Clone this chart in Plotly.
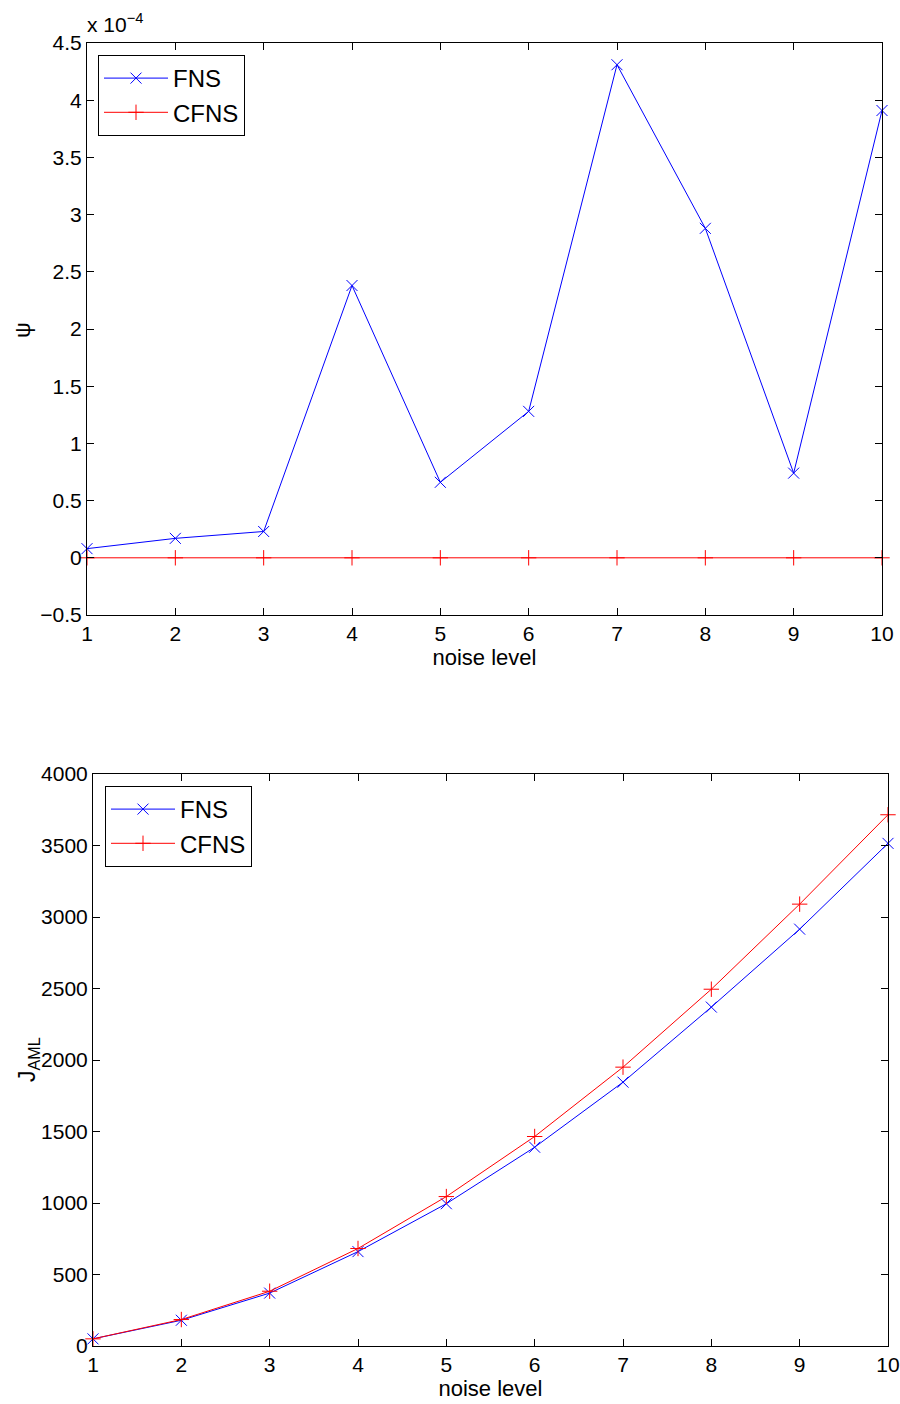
import plotly.graph_objects as go

noise = [1, 2, 3, 4, 5, 6, 7, 8, 9, 10]
# psi values in units of 1e-4
psi_fns = [0.08, 0.17, 0.23, 2.38, 0.66, 1.28, 4.31, 2.88, 0.74, 3.91]
psi_cfns = [0.0, 0.0, 0.0, 0.0, 0.0, 0.0, 0.0, 0.0, 0.0, 0.0]
jaml_fns = [50, 180, 370, 660, 995, 1390, 1845, 2370, 2915, 3515]
jaml_cfns = [50, 185, 383, 682, 1045, 1465, 1950, 2495, 3090, 3715]

FONT = "Liberation Sans, Arial, Helvetica, sans-serif"
BLUE = "#0000ff"
RED = "#ff0000"

fig = go.Figure()

def add(x, y, name, color, symbol, xa, ya, legend):
    fig.add_trace(go.Scatter(
        x=x, y=y, name=name, mode="lines+markers",
        line=dict(color=color, width=1),
        marker=dict(symbol=symbol, size=11, color=color, line=dict(color=color, width=1)),
        xaxis=xa, yaxis=ya, legend=legend, cliponaxis=False))

add(noise, psi_fns, "FNS", BLUE, "x-thin", "x", "y", "legend")
add(noise, psi_cfns, "CFNS", RED, "cross-thin", "x", "y", "legend")
add(noise, jaml_fns, "FNS", BLUE, "x-thin", "x2", "y2", "legend2")
add(noise, jaml_cfns, "CFNS", RED, "cross-thin", "x2", "y2", "legend2")

axis_common = dict(
    showgrid=False, zeroline=False, showline=True, linecolor="black", linewidth=1,
    mirror="ticks", ticks="inside", ticklen=7, tickcolor="black", tickwidth=1,
    automargin=False,
    tickfont=dict(family=FONT, size=21, color="black"),
)

H = 1404.0
leg_common = dict(xanchor="left", yanchor="top",
                  bordercolor="black", borderwidth=1, bgcolor="white",
                  font=dict(family=FONT, size=24, color="black"),
                  tracegroupgap=0, itemwidth=64)
fig.update_layout(
    width=900, height=1404,
    margin=dict(l=0, r=0, t=0, b=0),
    paper_bgcolor="white", plot_bgcolor="white",
    font=dict(family=FONT, color="black"),
    xaxis=dict(domain=[87/900, 882/900], range=[1, 10], dtick=1, anchor="y",
               title=dict(text="noise level", font=dict(size=22), standoff=4), **axis_common),
    yaxis=dict(domain=[(H-615)/H, (H-43)/H], range=[-0.5, 4.5], dtick=0.5, anchor="x",
               **axis_common),
    xaxis2=dict(domain=[93/900, 888/900], range=[1, 10], dtick=1, anchor="y2",
                title=dict(text="noise level", font=dict(size=22), standoff=2), **axis_common),
    yaxis2=dict(domain=[(H-1346)/H, (H-774)/H], range=[0, 4000], dtick=500, anchor="x2",
                **axis_common),
    legend=dict(x=98/900, y=(H-55)/H, **leg_common),
    legend2=dict(x=105/900, y=(H-786)/H, **leg_common),
    annotations=[
        dict(text="x 10<sup>−4</sup>", x=85/900, y=(H-38)/H, xref="paper", yref="paper",
             xanchor="left", yanchor="bottom", showarrow=False,
             font=dict(family=FONT, size=21, color="black")),
        dict(text="ψ", x=22/900, y=(H-330)/H, xref="paper", yref="paper",
             xanchor="center", yanchor="middle", showarrow=False, textangle=-90,
             font=dict(family=FONT, size=22, color="black")),
        dict(text="J<sub>AML</sub>", x=28/900, y=(H-1060)/H, xref="paper", yref="paper",
             xanchor="center", yanchor="middle", showarrow=False, textangle=-90,
             font=dict(family=FONT, size=23, color="black")),
    ],
)

fig.write_html("out.html")
